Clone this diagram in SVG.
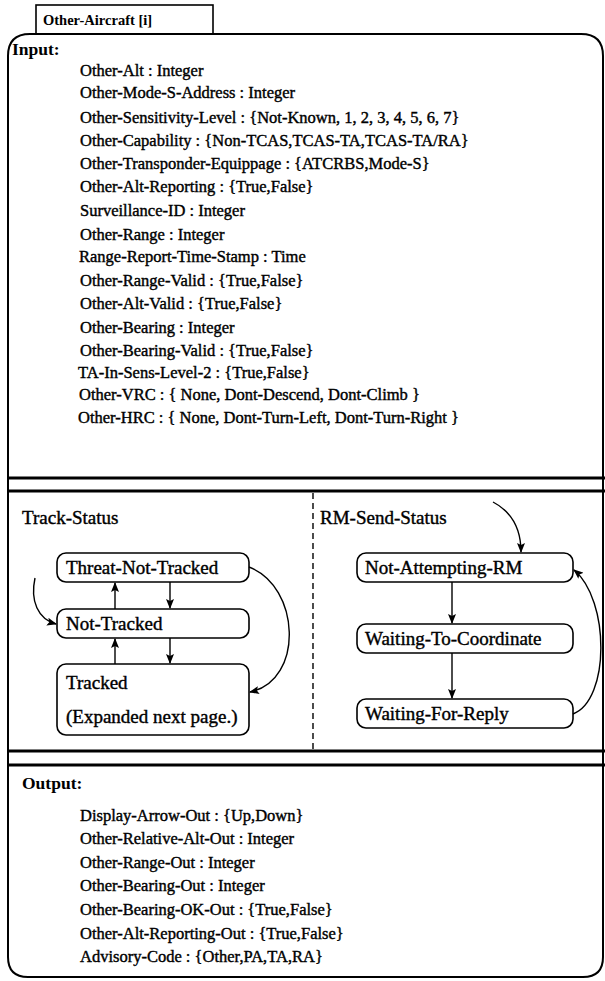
<svg xmlns="http://www.w3.org/2000/svg" width="605" height="981" viewBox="0 0 605 981">
<style>
text{font-family:"Liberation Serif","Times New Roman",serif;fill:#000}
.t{font-size:16.5px;stroke:#000;stroke-width:0.4}
.h{font-size:17.5px;font-weight:bold}
.s{font-size:19px;stroke:#000;stroke-width:0.4}
.title{font-size:14.5px;font-weight:bold}
.box{fill:#fff;stroke:#000;stroke-width:1.6}
.sep{stroke:#000;stroke-width:3}
.c{fill:none;stroke:#000;stroke-width:1.4}
</style>
<defs>
<marker id="ah" markerUnits="userSpaceOnUse" markerWidth="10" markerHeight="8" refX="9" refY="4" orient="auto">
<path d="M0,0 L10,4 L0,8 L2,4 z" fill="#000"/>
</marker>
</defs>
<rect width="605" height="981" fill="#fff"/>

<g id="title">
<rect x="36" y="5" width="177" height="29" fill="#fff" stroke="#000" stroke-width="1.6"/>
<text class="title" x="43" y="25">Other-Aircraft [i]</text>
</g>

<g id="frame">
<path d="M8 56 Q8 34 30 34 L581 34 Q603 34 603 56 L603 957 Q603 977 583 977 L28 977 Q8 977 8 957 Z" fill="none" stroke="#000" stroke-width="2"/>
<line class="sep" x1="8" y1="478" x2="605" y2="478"/>
<line class="sep" x1="8" y1="491" x2="605" y2="491"/>
<line class="sep" x1="8" y1="751" x2="605" y2="751"/>
<line class="sep" x1="8" y1="765" x2="605" y2="765"/>
<line x1="313" y1="493" x2="313" y2="750" stroke="#000" stroke-width="1.4" stroke-dasharray="6,4"/>
</g>

<g id="input">
<text class="h" x="12" y="55">Input:</text>
<text class="t" x="80" y="76">Other-Alt : Integer</text>
<text class="t" x="80" y="98">Other-Mode-S-Address : Integer</text>
<text class="t" x="80" y="123">Other-Sensitivity-Level : {Not-Known, 1, 2, 3, 4, 5, 6, 7}</text>
<text class="t" x="80" y="146">Other-Capability : {Non-TCAS,TCAS-TA,TCAS-TA/RA}</text>
<text class="t" x="80" y="169">Other-Transponder-Equippage : {ATCRBS,Mode-S}</text>
<text class="t" x="80" y="192">Other-Alt-Reporting : {True,False}</text>
<text class="t" x="80" y="216">Surveillance-ID : Integer</text>
<text class="t" x="80" y="240">Other-Range : Integer</text>
<text class="t" x="79" y="262">Range-Report-Time-Stamp : Time</text>
<text class="t" x="80" y="286">Other-Range-Valid : {True,False}</text>
<text class="t" x="80" y="309">Other-Alt-Valid : {True,False}</text>
<text class="t" x="80" y="333">Other-Bearing : Integer</text>
<text class="t" x="80" y="356">Other-Bearing-Valid : {True,False}</text>
<text class="t" x="78" y="378">TA-In-Sens-Level-2 : {True,False}</text>
<text class="t" x="79" y="400">Other-VRC : { None, Dont-Descend, Dont-Climb }</text>
<text class="t" x="78" y="423">Other-HRC : { None, Dont-Turn-Left, Dont-Turn-Right }</text>
</g>

<g id="track-status">
<text class="s" x="22" y="524">Track-Status</text>
</g>
<g id="threat-not-tracked">
<rect class="box" x="57" y="553" width="192" height="29" rx="9"/>
<text class="s" x="66" y="574">Threat-Not-Tracked</text>
</g>
<g id="not-tracked">
<rect class="box" x="57" y="609" width="192" height="29" rx="9"/>
<text class="s" x="66" y="630">Not-Tracked</text>
</g>
<g id="tracked">
<rect class="box" x="57" y="664" width="192" height="71" rx="9"/>
<text class="s" x="66" y="689">Tracked</text>
<text class="s" x="66" y="723">(Expanded next page.)</text>
</g>

<g id="rm-send-status">
<text class="s" x="320" y="524">RM-Send-Status</text>
</g>
<g id="not-attempting-rm">
<rect class="box" x="357" y="553" width="216" height="29" rx="9"/>
<text class="s" x="365" y="574">Not-Attempting-RM</text>
</g>
<g id="waiting-to-coordinate">
<rect class="box" x="357" y="624" width="216" height="29" rx="9"/>
<text class="s" x="365" y="645">Waiting-To-Coordinate</text>
</g>
<g id="waiting-for-reply">
<rect class="box" x="357" y="699" width="216" height="29" rx="9"/>
<text class="s" x="365" y="720">Waiting-For-Reply</text>
</g>

<g id="connectors">
<line class="c" x1="115" y1="609" x2="115" y2="583" marker-end="url(#ah)"/>
<line class="c" x1="170" y1="582" x2="170" y2="608" marker-end="url(#ah)"/>
<line class="c" x1="115" y1="664" x2="115" y2="639" marker-end="url(#ah)"/>
<line class="c" x1="170" y1="638" x2="170" y2="663" marker-end="url(#ah)"/>
<path class="c" d="M35 578 C30 601 38 619 56 624" marker-end="url(#ah)"/>
<path class="c" d="M249 567 C300 586 305 680 250 692" marker-end="url(#ah)"/>
<path class="c" d="M493 502 C512 512 521 530 521 552" marker-end="url(#ah)"/>
<line class="c" x1="452" y1="582" x2="452" y2="623" marker-end="url(#ah)"/>
<line class="c" x1="452" y1="653" x2="452" y2="698" marker-end="url(#ah)"/>
<path class="c" d="M573 714 C610 700 610 600 574 570" marker-end="url(#ah)"/>
</g>

<g id="output">
<text class="h" x="22" y="789">Output:</text>
<text class="t" x="80" y="821">Display-Arrow-Out : {Up,Down}</text>
<text class="t" x="80" y="844">Other-Relative-Alt-Out : Integer</text>
<text class="t" x="80" y="868">Other-Range-Out : Integer</text>
<text class="t" x="80" y="891">Other-Bearing-Out : Integer</text>
<text class="t" x="80" y="915">Other-Bearing-OK-Out : {True,False}</text>
<text class="t" x="80" y="939">Other-Alt-Reporting-Out : {True,False}</text>
<text class="t" x="80" y="962">Advisory-Code : {Other,PA,TA,RA}</text>
</g>
</svg>
